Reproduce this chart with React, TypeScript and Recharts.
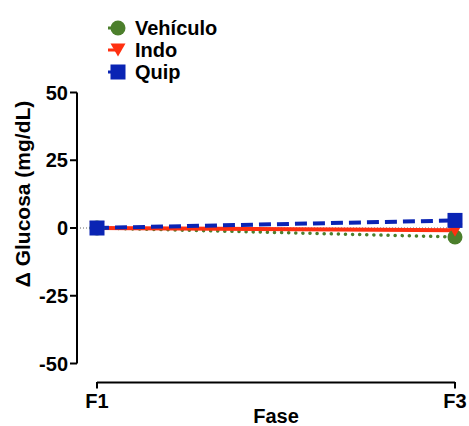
import React from 'react';
import { LineChart, Line, XAxis, YAxis, ReferenceLine, Legend } from 'recharts';

const fases = ['F1', 'F3'];
const vehiculo = [0, -3.3];
const indo = [0, -0.8];
const quip = [0, 2.8];
const yTicks = [-50, -25, 0, 25, 50];
const seriesNames = ['Vehículo', 'Indo', 'Quip'];
const X_AXIS_LEVEL = -57;

const data = fases.map((f, i) => ({
  fase: f,
  vehiculo: vehiculo[i],
  indo: indo[i],
  quip: quip[i],
}));

const FONT = '"Liberation Sans", Arial, Helvetica, sans-serif';
const GREEN = '#4C7F2C';
const RED = '#FF3010';
const BLUE = '#0A24B4';

const kindOf: Record<string, string> = { vehiculo: 'circle', indo: 'triangle', quip: 'square' };

function Marker({ kind, cx, cy, color }: any) {
  if (kind === 'circle') return <circle cx={cx} cy={cy} r={7.5} fill={color} />;
  if (kind === 'triangle')
    return <path d={`M${cx - 7.5},${cy - 6.5} L${cx + 7.5},${cy - 6.5} L${cx},${cy + 6.5} Z`} fill={color} />;
  return <rect x={cx - 7.5} y={cy - 7.5} width={15} height={15} fill={color} />;
}

const makeDot = (kind: string, color: string) => (p: any) =>
  <Marker key={`${kind}-${p.index}`} kind={kind} cx={p.cx} cy={p.cy} color={color} />;

const renderLegend = (props: any) => {
  const items = [...(props.payload || [])].sort(
    (a: any, b: any) => seriesNames.indexOf(a.value) - seriesNames.indexOf(b.value)
  );
  return (
    <div style={{ fontFamily: FONT, fontWeight: 'bold', fontSize: 20, color: '#000' }}>
      {items.map((entry: any, i: number) => (
        <div key={i} style={{ display: 'flex', alignItems: 'center', height: 22 }}>
          <svg width={24} height={22} style={{ display: 'block' }}>
            <line x1={2} x2={12} y1={11} y2={11} stroke={entry.color} strokeWidth={3} />
            <Marker kind={kindOf[entry.dataKey]} cx={12} cy={11} color={entry.color} />
          </svg>
          <span style={{ marginLeft: 5, lineHeight: '22px' }}>{entry.value}</span>
        </div>
      ))}
    </div>
  );
};

const XTick = (props: any) => {
  const { x, y, payload } = props;
  return (
    <g>
      <line x1={x} x2={x} y1={y + 18.5} y2={y + 25} stroke="#000" strokeWidth={2} />
      <text x={x} y={y + 44.5} textAnchor="middle" fontFamily={FONT} fontWeight="bold" fontSize={20} fill="#000">
        {payload.value}
      </text>
    </g>
  );
};

export default function App() {
  return (
    <div style={{ position: 'absolute', left: 0, top: 0, width: 469, height: 426, background: '#fff' }}>
      <LineChart width={469} height={426} data={data} margin={{ top: 92.5, right: 14, bottom: 0, left: 0 }}>
        <XAxis
          dataKey="fase"
          padding={{ left: 20, right: 0 }}
          axisLine={false}
          tickLine={false}
          tickSize={0}
          tickMargin={0}
          height={62.5}
          tick={<XTick />}
          interval={0}
          label={{
            content: (p: any) => {
              const vb = p.viewBox;
              return (
                <text x={vb.x + 20 + (vb.width - 20) / 2} y={423} textAnchor="middle" fontFamily={FONT} fontWeight="bold" fontSize={20} fill="#000">
                  Fase
                </text>
              );
            },
          }}
        />
        <YAxis
          domain={[-50, 50]}
          ticks={yTicks}
          width={77}
          axisLine={{ stroke: '#000', strokeWidth: 2 }}
          tickLine={{ stroke: '#000', strokeWidth: 2 }}
          tickSize={7}
          tickMargin={2}
          tick={{ fontFamily: FONT, fontWeight: 'bold', fontSize: 20, fill: '#000' }}
          label={{
            content: (p: any) => {
              const vb = p.viewBox;
              const cx = 22;
              const cy = vb.y + vb.height / 2 - 34;
              return (
                <text x={cx} y={cy} transform={`rotate(-90, ${cx}, ${cy})`} textAnchor="middle" dominantBaseline="central" fontFamily={FONT} fontWeight="bold" fontSize={21} fill="#000">
                  Δ Glucosa (mg/dL)
                </text>
              );
            },
          }}
        />
        <ReferenceLine y={0} stroke="#666" strokeWidth={1} strokeDasharray="1 2" />
        <ReferenceLine
          segment={[{ x: 'F1', y: X_AXIS_LEVEL }, { x: 'F3', y: X_AXIS_LEVEL }]}
          stroke="#000"
          strokeWidth={2}
          ifOverflow="visible"
        />
        <Line
          dataKey="vehiculo"
          name={seriesNames[0]}
          stroke={GREEN}
          strokeWidth={3.5}
          strokeDasharray="0.1 7"
          strokeLinecap="round"
          dot={makeDot('circle', GREEN)}
          activeDot={false}
          isAnimationActive={false}
        />
        <Line
          dataKey="indo"
          name={seriesNames[1]}
          stroke={RED}
          strokeWidth={4}
          dot={makeDot('triangle', RED)}
          activeDot={false}
          isAnimationActive={false}
        />
        <Line
          dataKey="quip"
          name={seriesNames[2]}
          stroke={BLUE}
          strokeWidth={4}
          strokeDasharray="12 6"
          dot={makeDot('square', BLUE)}
          activeDot={false}
          isAnimationActive={false}
        />
        <Legend
          content={renderLegend}
          layout="vertical"
          align="center"
          verticalAlign="middle"
          wrapperStyle={{ top: 17, left: 106, width: 'auto' }}
        />
      </LineChart>
    </div>
  );
}
